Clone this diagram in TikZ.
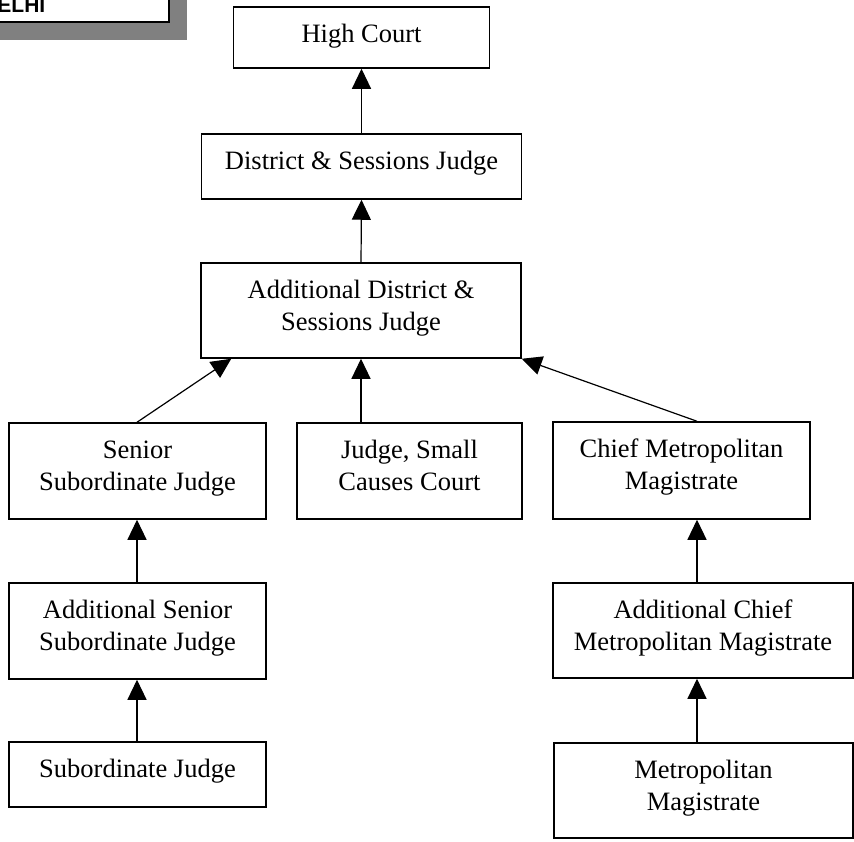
\documentclass[tikz,border=0pt]{standalone}
\usepackage{fontspec}
\setmainfont{Liberation Serif}
\newfontfamily\arialfont{Liberation Sans}
\usetikzlibrary{arrows.meta}
\newcommand{\boxtxt}[3]{\parbox[c][#2pt][t]{#1pt}{\centering\rule{0pt}{35.5pt}#3\par}}
\definecolor{shadowgray}{HTML}{808080}
\begin{document}
\begin{tikzpicture}[x=1pt,y=-1pt,
  box/.style={draw, line width=1.5pt, rectangle, inner sep=0pt, fill=white,
    font=\fontsize{26.5pt}{31.5pt}\selectfont},
  arr/.style={line width=1.2pt, -{Triangle[length=20pt,width=19pt]}}]
\useasboundingbox (0,0) rectangle (854,841);
\clip (0,0) rectangle (854,841);
\fill[white] (0,0) rectangle (854,841);
% title box (cut off at the top left)
\node[fill=shadowgray, minimum width=370pt, minimum height=100pt, inner sep=0pt,
  anchor=south east] (titleshadow) at (187,40) {};
\node[draw, line width=2pt, fill=white, minimum width=370pt, minimum height=100pt,
  inner sep=0pt, anchor=south east] (title) at (170,23) {};
\node[anchor=base east, inner sep=0pt,
  font=\arialfont\bfseries\fontsize{21pt}{25pt}\selectfont] (titletext) at (45.5,12.3) {DELHI};
% boxes
\node[box] (hc) at (361.5,37.5) {\boxtxt{256}{61}{High Court}};
\node[box] (dsj) at (361.5,166.5) {\boxtxt{320}{65}{District \& Sessions Judge}};
\node[box] (adsj) at (361,310.5) {\boxtxt{320}{95}{Additional District \&\\Sessions Judge}};
\node[box] (ssj) at (137.5,471) {\boxtxt{257}{96}{Senior\\Subordinate Judge}};
\node[box] (jscc) at (409.5,471) {\boxtxt{225}{96}{Judge, Small\\Causes Court}};
\node[box] (cmm) at (681.5,470.5) {\boxtxt{257}{97}{Chief Metropolitan\\Magistrate}};
\node[box] (assj) at (137.5,631) {\boxtxt{257}{96}{Additional Senior\\Subordinate Judge}};
\node[box] (sj) at (137.5,774.5) {\boxtxt{257}{65}{Subordinate Judge}};
\node[box] (acmm) at (703,630.5) {\boxtxt{300}{95}{Additional Chief\\Metropolitan Magistrate}};
\node[box] (mm) at (703.5,790.5) {\boxtxt{299}{95}{Metropolitan\\Magistrate}};
% connectors
\coordinate (lx) at (137,0);
\coordinate (rx) at (697,0);
\draw[arr] (dsj.north) -- (hc.south);
\draw[arr] (adsj.north) -- (dsj.south);
\draw[arr] (ssj.north -| lx) -- ([xshift=31pt]adsj.south west);
\draw[arr] (jscc.north -| adsj.south) -- (adsj.south);
\draw[arr] (cmm.north -| rx) -- (adsj.south east);
\draw[arr] (assj.north -| lx) -- (ssj.south -| lx);
\draw[arr] (sj.north -| lx) -- (assj.south -| lx);
\draw[arr] (acmm.north -| rx) -- (cmm.south -| rx);
\draw[arr] (mm.north -| rx) -- (acmm.south -| rx);
\end{tikzpicture}
\end{document}
